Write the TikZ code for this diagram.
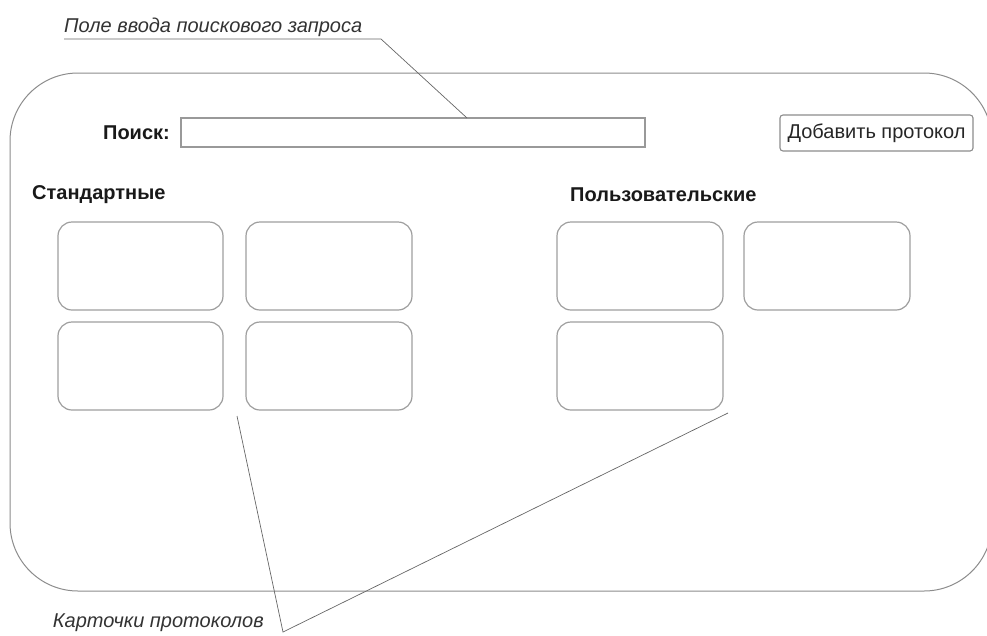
\documentclass[tikz,border=0pt]{standalone}
\usepackage{fontspec}
\setmainfont{Liberation Sans}
\begin{document}
\begin{tikzpicture}[x=1pt,y=-1pt,
  frame/.style={draw=black!45,line width=1pt,rounded corners=68pt},
  card/.style={draw=black!38,line width=1.2pt,rounded corners=14pt},
  field/.style={draw=black!40,line width=1.4pt},
  btn/.style={draw=black!45,line width=1.1pt,rounded corners=3pt,inner sep=0pt,
    minimum width=193pt,minimum height=36pt,font=\fontsize{20}{24}\selectfont,text=black!85},
  heading/.style={font=\bfseries\fontsize{20}{24}\selectfont,inner sep=0pt,text=black!90},
  callout/.style={font=\itshape\fontsize{20}{24}\selectfont,inner sep=0pt,text=black!80},
  leader/.style={draw=black!60,line width=0.7pt}]
\useasboundingbox (0,0) rectangle (987,635);
\begin{scope}
\clip (0,0) rectangle (987,635);
% window outline
\draw[frame] (10,73) rectangle (992,591);
\end{scope}

% search row
\draw[field] (181,118) rectangle (645,147);
\node[coordinate] (sbhit) at (467,118) {};
\node[heading,anchor=east] (searchlbl) at (170,133) {Поиск:};
\node[btn] (addbtn) at (876.5,133) {Добавить протокол};

% group headings
\node[heading,anchor=west] (stdlbl) at (32,195) {Стандартные};
\node[heading,anchor=west] (usrlbl) at (570,195) {Пользовательские};

% standard cards
\node[card,minimum width=165pt,minimum height=88pt] (s1) at (140.5,266) {};
\node[card,minimum width=166pt,minimum height=88pt] (s2) at (329,266) {};
\node[card,minimum width=165pt,minimum height=88pt] (s3) at (140.5,366) {};
\node[card,minimum width=166pt,minimum height=88pt] (s4) at (329,366) {};

% user cards
\node[card,minimum width=166pt,minimum height=88pt] (u1) at (640,266) {};
\node[card,minimum width=166pt,minimum height=88pt] (u2) at (827,266) {};
\node[card,minimum width=166pt,minimum height=88pt] (u3) at (640,366) {};

% callout: search field
\node[callout,anchor=base west] (cfield) at (64,32) {Поле ввода поискового запроса};
\node[coordinate] (ulend) at (381,39) {};
\draw[leader] (64,39) -- (ulend) -- (sbhit);

% callout: cards
\node[callout,anchor=base east] (ccards) at (264,627) {Карточки протоколов};
\node[coordinate] (meet) at (283,632) {};
\node[coordinate] (tipa) at (237,416) {};
\node[coordinate] (tipb) at (728,413) {};
\draw[leader] (tipa) -- (meet) -- (tipb);
\end{tikzpicture}
\end{document}
